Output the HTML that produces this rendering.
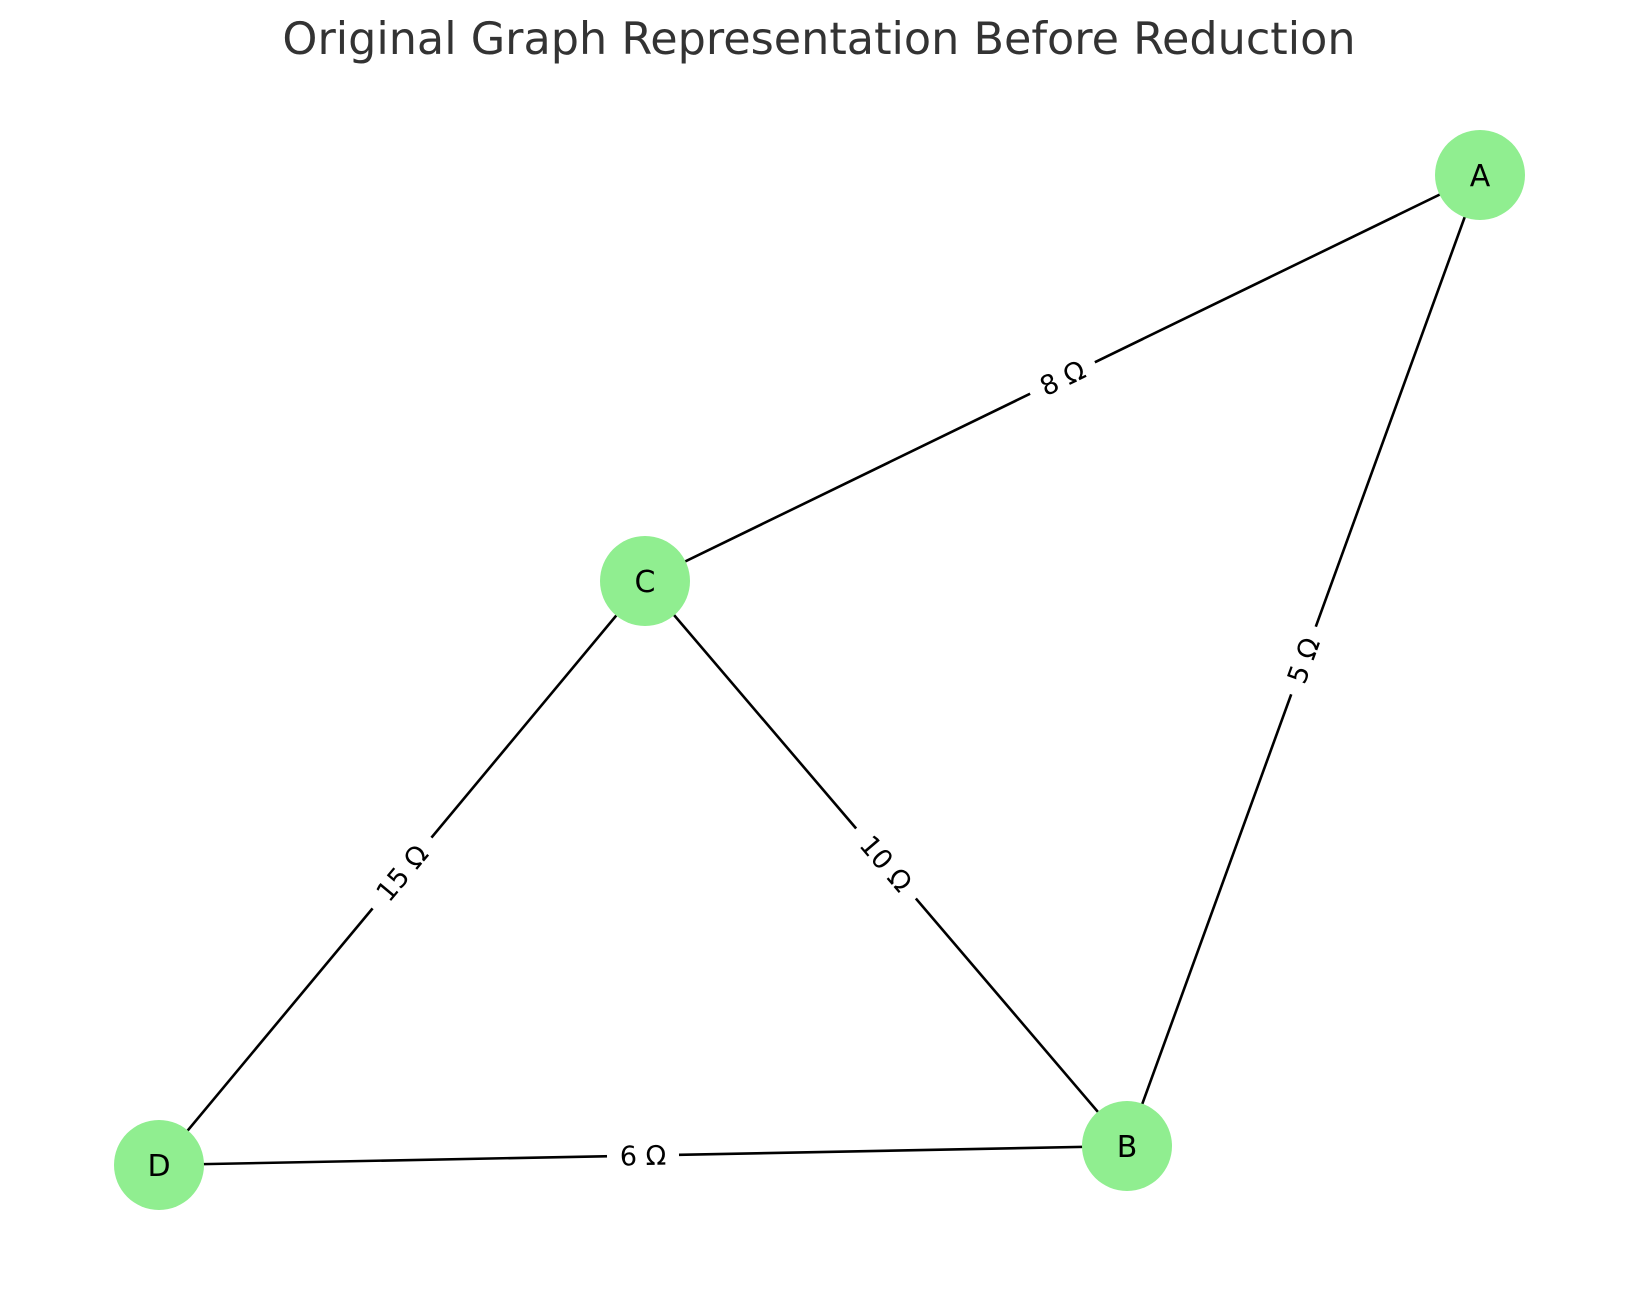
<!DOCTYPE html>
<html><head><meta charset="utf-8"><style>body{margin:0;background:#fff}svg{display:block}</style></head>
<body>
<svg width="1639" height="1290" viewBox="0 0 1639 1290" xmlns="http://www.w3.org/2000/svg" font-family="DejaVu Sans, Liberation Sans, sans-serif">
<text x="819" y="54" text-anchor="middle" font-size="44.5" fill="#333">Original Graph Representation Before Reduction</text>
<g stroke="#000" stroke-width="2.6">
<line x1="1480" y1="175" x2="645" y2="581"/>
<line x1="1480" y1="175" x2="1127" y2="1146"/>
<line x1="645" y1="581" x2="1127" y2="1146"/>
<line x1="645" y1="581" x2="159" y2="1165"/>
<line x1="159" y1="1165" x2="1127" y2="1146"/>
</g>
<g font-size="27" text-anchor="middle" fill="#000">
<g transform="translate(1062.5,378) rotate(-25.9)"><rect x="-36" y="-17" width="72" height="34" fill="#fff"/><text y="9.5">8 Ω</text></g>
<g transform="translate(886,863.5) rotate(49.5)"><rect x="-46" y="-17" width="92" height="34" fill="#fff"/><text y="9.5">10 Ω</text></g>
<g transform="translate(402,873) rotate(-50.2)"><rect x="-46" y="-17" width="92" height="34" fill="#fff"/><text y="9.5">15 Ω</text></g>
<g transform="translate(1303.5,660.5) rotate(-70)"><rect x="-36" y="-17" width="72" height="34" fill="#fff"/><text y="9.5">5 Ω</text></g>
<g transform="translate(643,1155.5) rotate(-1.1)"><rect x="-36" y="-17" width="72" height="34" fill="#fff"/><text y="9.5">6 Ω</text></g>
</g>
<g fill="#90ee90">
<circle cx="1480" cy="175" r="45"/>
<circle cx="645" cy="581" r="45"/>
<circle cx="1127" cy="1146" r="45"/>
<circle cx="159" cy="1165" r="45"/>
</g>
<g font-size="30" text-anchor="middle" fill="#000">
<text x="1480" y="186">A</text>
<text x="645" y="592">C</text>
<text x="1127" y="1157">B</text>
<text x="159" y="1176">D</text>
</g>
</svg>
</body></html>
